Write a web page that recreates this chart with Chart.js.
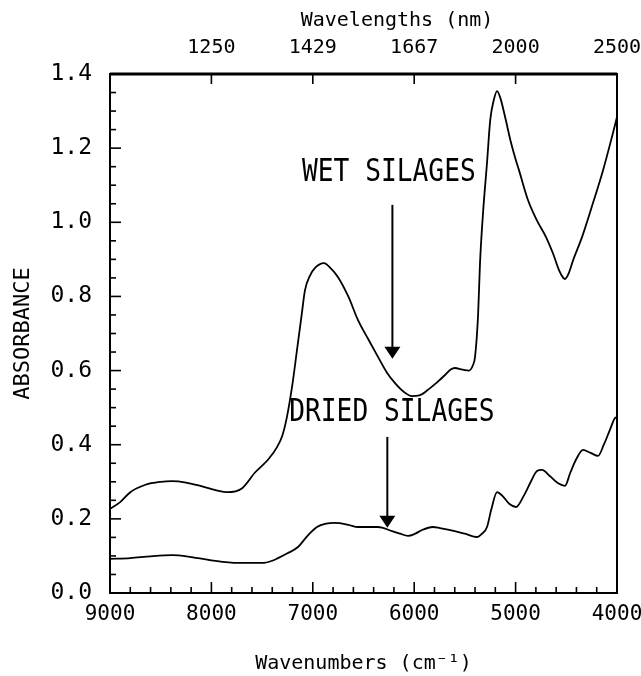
<!DOCTYPE html>
<html><head><meta charset="utf-8">
<script src="https://cdn.jsdelivr.net/npm/chart.js@4/dist/chart.umd.min.js"></script>
<style>html,body{margin:0;padding:0;background:#fff;}#wrap{width:641px;height:676px;}</style>
</head><body><div id="wrap"><canvas id="c" width="641" height="676"></canvas></div>
<script>
// ---- data ----
const wetWavenumbers = [9000, 8900, 8800, 8650, 8500, 8390, 8250, 8100, 7950, 7846, 7700, 7570, 7440, 7350, 7300, 7255, 7200, 7156, 7110, 7077, 7030, 6978, 6890, 6820, 6751, 6650, 6554, 6450, 6357, 6270, 6189, 6100, 6022, 5950, 5864, 5780, 5696, 5640, 5598, 5530, 5460, 5420, 5400, 5370, 5351, 5320, 5282, 5250, 5215, 5183, 5150, 5100, 5050, 5000, 4966, 4878, 4790, 4700, 4630, 4572, 4530, 4513, 4480, 4430, 4345, 4237, 4138, 4050, 4000];
const wetAbsorbance = [0.227, 0.245, 0.272, 0.292, 0.300, 0.302, 0.298, 0.288, 0.277, 0.272, 0.282, 0.325, 0.360, 0.395, 0.425, 0.475, 0.565, 0.655, 0.750, 0.817, 0.855, 0.877, 0.890, 0.875, 0.852, 0.800, 0.736, 0.683, 0.637, 0.595, 0.566, 0.542, 0.531, 0.533, 0.548, 0.567, 0.588, 0.603, 0.607, 0.603, 0.600, 0.615, 0.637, 0.750, 0.890, 1.030, 1.160, 1.276, 1.330, 1.354, 1.335, 1.280, 1.220, 1.170, 1.140, 1.060, 1.005, 0.960, 0.915, 0.871, 0.850, 0.847, 0.860, 0.900, 0.960, 1.052, 1.140, 1.230, 1.284];
const driedWavenumbers = [9000, 8800, 8600, 8389, 8200, 8000, 7738, 7501, 7400, 7343, 7250, 7146, 7050, 6959, 6870, 6781, 6650, 6554, 6357, 6219, 6140, 6061, 5990, 5923, 5815, 5746, 5600, 5500, 5381, 5330, 5282, 5240, 5183, 5130, 5060, 4996, 4920, 4850, 4789, 4740, 4660, 4580, 4513, 4460, 4400, 4335, 4260, 4187, 4130, 4070, 4020, 4000];
const driedAbsorbance = [0.092, 0.094, 0.099, 0.102, 0.097, 0.088, 0.081, 0.081, 0.087, 0.094, 0.107, 0.124, 0.155, 0.178, 0.187, 0.189, 0.184, 0.178, 0.178, 0.167, 0.160, 0.154, 0.160, 0.170, 0.178, 0.175, 0.167, 0.160, 0.151, 0.160, 0.178, 0.225, 0.272, 0.262, 0.240, 0.232, 0.262, 0.300, 0.329, 0.332, 0.315, 0.296, 0.289, 0.325, 0.362, 0.386, 0.378, 0.370, 0.400, 0.440, 0.472, 0.474];
const bottomTickValues = [9000, 8000, 7000, 6000, 5000, 4000];
const topTickLabels = ['', '1250', '1429', '1667', '2000', '2500'];
const seriesNames = ['WET SILAGES', 'DRIED SILAGES'];

const FONT = '"DejaVu Sans Mono", "Liberation Mono", monospace';

const toPoints = (xs, ys) => xs.map((x, i) => ({x: x, y: ys[i]}));

// annotation placement (data space)
const labelSpots = [
  {text: seriesNames[0], x: 6250, y: 1.135, arrowX: 6215, arrowFrom: 1.047, arrowTo: 0.632},
  {text: seriesNames[1], x: 6220, y: 0.486, arrowX: 6265, arrowFrom: 0.421, arrowTo: 0.176}
];

const decor = {
  id: 'decor',
  afterDraw(chart) {
    const ctx = chart.ctx;
    const xs = chart.scales.x, ys = chart.scales.y;
    const a = chart.chartArea;
    ctx.save();
    ctx.strokeStyle = '#000';
    ctx.fillStyle = '#000';
    // frame
    ctx.lineWidth = 2;
    ctx.strokeRect(a.left, a.top, a.right - a.left, a.bottom - a.top);
    ctx.lineWidth = 3;
    ctx.beginPath(); ctx.moveTo(a.left, a.top); ctx.lineTo(a.right, a.top); ctx.stroke();
    // bottom ticks (inward)
    ctx.lineWidth = 1.6;
    for (let v = 4000; v <= 9000; v += 200) {
      const px = xs.getPixelForValue(v);
      const len = (v % 1000 === 0) ? 11 : 6;
      ctx.beginPath(); ctx.moveTo(px, a.bottom); ctx.lineTo(px, a.bottom - len); ctx.stroke();
    }
    // top ticks
    for (let v = 5000; v <= 8000; v += 1000) {
      const px = xs.getPixelForValue(v);
      ctx.beginPath(); ctx.moveTo(px, a.top); ctx.lineTo(px, a.top + 10); ctx.stroke();
    }
    // left ticks
    for (let k = 0; k <= 28; k++) {
      const v = k * 0.05;
      const py = ys.getPixelForValue(v);
      const len = (k % 4 === 0) ? 11 : 6;
      ctx.beginPath(); ctx.moveTo(a.left, py); ctx.lineTo(a.left + len, py); ctx.stroke();
    }
    // top title
    ctx.font = '20px ' + FONT;
    ctx.textAlign = 'center';
    ctx.textBaseline = 'middle';
    ctx.fillText('Wavelengths (nm)', 397, 21);
    // annotations
    labelSpots.forEach(s => {
      const tx = xs.getPixelForValue(s.x), ty = ys.getPixelForValue(s.y);
      ctx.save();
      ctx.translate(tx, ty);
      ctx.scale(0.82, 1);
      ctx.font = '32px ' + FONT;
      ctx.textAlign = 'center';
      ctx.textBaseline = 'middle';
      ctx.fillText(s.text, 0, 0);
      ctx.restore();
      const ax = xs.getPixelForValue(s.arrowX);
      const y0 = ys.getPixelForValue(s.arrowFrom), y1 = ys.getPixelForValue(s.arrowTo);
      ctx.lineWidth = 2;
      ctx.beginPath(); ctx.moveTo(ax, y0); ctx.lineTo(ax, y1 - 10); ctx.stroke();
      ctx.beginPath(); ctx.moveTo(ax - 8, y1 - 12); ctx.lineTo(ax + 8, y1 - 12); ctx.lineTo(ax, y1); ctx.closePath(); ctx.fill();
    });
    ctx.restore();
  }
};

const fixH = h => s => { s.height = h; s.paddingLeft = 0; s.paddingRight = 0; };

new Chart(document.getElementById('c'), {
  type: 'line',
  data: {
    datasets: [
      {label: seriesNames[0], data: toPoints(wetWavenumbers, wetAbsorbance), borderColor: '#000', borderWidth: 1.8, pointRadius: 0, cubicInterpolationMode: 'monotone', fill: false},
      {label: seriesNames[1], data: toPoints(driedWavenumbers, driedAbsorbance), borderColor: '#000', borderWidth: 1.8, pointRadius: 0, cubicInterpolationMode: 'monotone', fill: false}
    ]
  },
  options: {
    responsive: false,
    devicePixelRatio: 1,
    animation: false,
    layout: {padding: {left: 0, right: 24, top: 0, bottom: 0}},
    plugins: {legend: {display: false}, tooltip: {enabled: false}},
    scales: {
      x: {
        type: 'linear', position: 'bottom', min: 4000, max: 9000, reverse: true,
        afterBuildTicks: s => { s.ticks = bottomTickValues.map(v => ({value: v})); },
        ticks: {color: '#000', font: {family: FONT, size: 21}, padding: 9, maxRotation: 0, autoSkip: false, callback: v => String(v)},
        grid: {display: false, drawTicks: false},
        border: {display: false},
        title: {display: true, text: 'Wavenumbers (cm\u207B\u00B9)', color: '#000', font: {family: FONT, size: 20}, padding: {top: 0, bottom: 0}},
        afterFit: fixH(83)
      },
      x2: {
        type: 'linear', position: 'top', min: 4000, max: 9000, reverse: true,
        afterBuildTicks: s => { s.ticks = bottomTickValues.map(v => ({value: v})); },
        ticks: {color: '#000', font: {family: FONT, size: 20}, padding: 14, maxRotation: 0, autoSkip: false,
          callback: v => topTickLabels[bottomTickValues.indexOf(v)] || ''},
        grid: {display: false, drawTicks: false},
        border: {display: false},
        afterFit: fixH(74)
      },
      y: {
        type: 'linear', min: 0, max: 1.4,
        ticks: {stepSize: 0.2, color: '#000', font: {family: FONT, size: 23}, padding: 18, callback: v => v.toFixed(1)},
        grid: {display: false, drawTicks: false},
        border: {display: false},
        title: {display: true, text: 'ABSORBANCE', color: '#000', font: {family: FONT, size: 22}, padding: {top: 10, bottom: 0}},
        afterFit: s => { s.width = 110; s.paddingTop = 0; s.paddingBottom = 0; }
      }
    }
  },
  plugins: [decor]
});
</script></body></html>
